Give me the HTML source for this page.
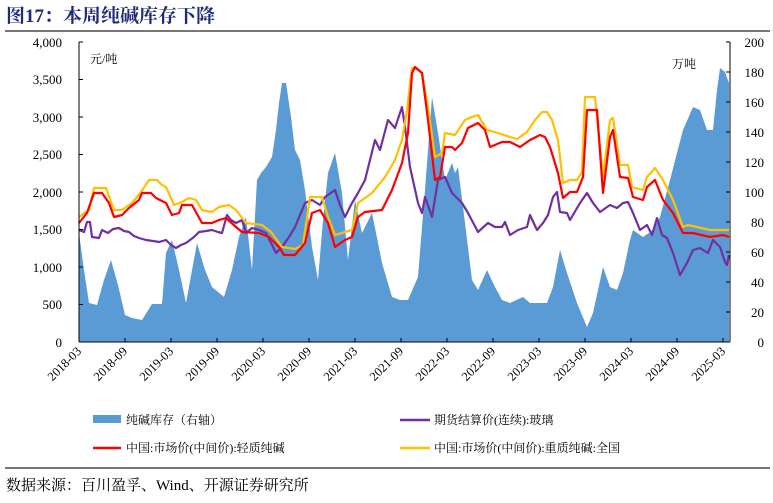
<!DOCTYPE html>
<html><head><meta charset="utf-8"><style>
body{margin:0;background:#fff;width:773px;height:498px;overflow:hidden;font-family:"Liberation Serif","Noto Serif CJK SC",serif}
svg text{font-family:"Liberation Serif","Noto Serif CJK SC",serif}
</style></head><body>
<svg width="773" height="498" xmlns="http://www.w3.org/2000/svg">
<text x="6" y="22" font-size="19" font-weight="bold" fill="#1f2a7a">图17：本周纯碱库存下降</text>
<line x1="5" y1="31" x2="770" y2="31" stroke="#777" stroke-width="2"/>
<polygon fill="#5b9bd5" points="79,342 79,233 84,270 89,303 97,305 104,280 111,260 118,285 125,315 132,318 142,320 152,304 162,304 166,253 172,240 179,270 186,303 197,243 205,270 212,287 224,297 232,270 239,237 246,217 252,270 257,180 261,173 266,167 272,157 276,130 279,103 282,83 286,83 291,117 295,150 300,160 305,190 312,247 318,280 323,220 328,173 335,153 342,193 348,260 355,200 362,233 372,213 382,263 392,297 400,300 408,300 418,277 425,190 432,97 438,133 445,180 452,163 455,173 458,167 465,223 472,280 478,290 487,270 495,287 502,300 510,303 523,297 530,303 547,303 553,287 560,250 567,273 577,303 587,327 593,313 603,267 610,287 617,290 623,273 630,240 633,230 643,237 653,230 660,217 670,180 677,153 683,130 693,107 700,110 707,130 713,130 717,90 720,68 725,72 729,83 729,342"/>
<g fill="none" stroke-width="2.2" stroke-linejoin="round">
<polyline stroke="#7030a0" points="79,230 84,232 87,222 90,222 92,237 99,238 102,230 108,233 113,229 119,228 124,231 129,232 134,236 139,238 146,240 153,241 159,242 166,240 171,245 176,248 181,245 186,243 194,237 199,232 206,231 212,230 218,232 222,233 227,215 231,220 236,223 242,220 246,233 252,228 259,230 266,233 271,243 276,253 282,247 289,237 295,227 300,215 305,203 312,200 320,205 325,197 335,190 340,205 345,217 352,203 358,193 365,180 370,160 375,140 380,150 388,120 395,128 402,107 405,127 410,167 418,203 422,213 425,197 432,217 438,180 445,177 452,193 462,203 468,213 478,232 488,223 495,227 502,227 505,222 510,235 518,230 527,227 530,215 537,230 543,223 548,215 553,197 557,192 560,212 567,213 570,220 580,203 587,193 593,203 600,212 610,205 617,208 623,203 628,202 633,213 640,230 647,225 652,235 657,218 662,235 667,238 673,253 680,275 687,263 693,250 700,248 708,253 713,240 720,247 725,262 727,265 729,255"/>
<polyline stroke="#ffc000" points="79,217 89,210 94,188 106,188 114,210 122,210 132,203 141,192 149,180 157,180 162,185 166,187 174,205 182,202 189,198 196,200 202,210 212,212 219,207 229,205 236,210 246,223 262,225 271,232 282,247 295,249 303,245 310,197 322,197 328,217 335,235 352,230 358,203 372,193 385,177 395,160 402,140 407,110 412,68 417,69 422,73 428,107 435,157 442,153 445,133 455,135 465,120 472,117 478,115 487,130 498,133 510,137 517,139 527,132 535,120 542,112 547,112 552,120 558,140 563,183 570,180 577,180 582,172 585,97 595,97 603,177 610,120 613,118 620,165 628,165 632,187 643,190 647,177 655,168 663,180 673,200 683,227 688,225 710,230 723,230 729,230"/>
<polyline stroke="#ff0000" points="79,223 87,213 94,193 102,193 109,203 114,217 122,215 129,208 139,200 142,193 151,193 156,198 166,203 172,215 179,213 182,205 192,205 202,223 212,223 219,220 226,218 236,227 242,232 259,233 269,237 279,247 284,255 295,255 305,243 312,213 320,210 328,223 335,247 345,240 352,237 358,217 365,212 382,210 392,190 402,163 408,133 412,73 415,67 422,73 428,120 435,180 440,177 445,147 452,147 455,150 462,143 468,128 478,123 485,130 490,147 502,142 510,142 520,147 530,140 540,135 545,137 550,147 558,173 563,198 570,192 577,192 583,177 587,110 597,110 603,193 610,137 613,130 620,177 628,178 633,197 643,200 647,187 655,180 663,200 673,213 683,233 693,233 710,237 723,235 729,237"/>
</g>
<g stroke="#000" stroke-width="1">
<line x1="79" y1="42" x2="79" y2="342"/><line x1="79" y1="342" x2="730" y2="342"/><line x1="730" y1="42" x2="730" y2="342"/>
<line x1="79" y1="42" x2="83" y2="42"/><line x1="79" y1="79.5" x2="83" y2="79.5"/><line x1="79" y1="117" x2="83" y2="117"/><line x1="79" y1="154.5" x2="83" y2="154.5"/><line x1="79" y1="192" x2="83" y2="192"/><line x1="79" y1="229.5" x2="83" y2="229.5"/><line x1="79" y1="267" x2="83" y2="267"/><line x1="79" y1="304.5" x2="83" y2="304.5"/>
<line x1="726" y1="42" x2="730" y2="42"/><line x1="726" y1="72" x2="730" y2="72"/><line x1="726" y1="102" x2="730" y2="102"/><line x1="726" y1="132" x2="730" y2="132"/><line x1="726" y1="162" x2="730" y2="162"/><line x1="726" y1="192" x2="730" y2="192"/><line x1="726" y1="222" x2="730" y2="222"/><line x1="726" y1="252" x2="730" y2="252"/><line x1="726" y1="282" x2="730" y2="282"/><line x1="726" y1="312" x2="730" y2="312"/>
<line x1="125" y1="342" x2="125" y2="338"/><line x1="171" y1="342" x2="171" y2="338"/><line x1="217" y1="342" x2="217" y2="338"/><line x1="263" y1="342" x2="263" y2="338"/><line x1="309" y1="342" x2="309" y2="338"/><line x1="355" y1="342" x2="355" y2="338"/><line x1="401" y1="342" x2="401" y2="338"/><line x1="447" y1="342" x2="447" y2="338"/><line x1="493" y1="342" x2="493" y2="338"/><line x1="539" y1="342" x2="539" y2="338"/><line x1="585" y1="342" x2="585" y2="338"/><line x1="631" y1="342" x2="631" y2="338"/><line x1="677" y1="342" x2="677" y2="338"/><line x1="723" y1="342" x2="723" y2="338"/>
</g>
<g font-size="13" text-anchor="end" fill="#000">
<text x="62" y="47">4,000</text><text x="62" y="84">3,500</text><text x="62" y="122">3,000</text><text x="62" y="159">2,500</text><text x="62" y="197">2,000</text><text x="62" y="234">1,500</text><text x="62" y="272">1,000</text><text x="62" y="309">500</text><text x="62" y="347">0</text>
</g>
<g font-size="13" text-anchor="end" fill="#000">
<text x="764" y="47">200</text><text x="764" y="77">180</text><text x="764" y="107">160</text><text x="764" y="137">140</text><text x="764" y="167">120</text><text x="764" y="197">100</text><text x="764" y="227">80</text><text x="764" y="257">60</text><text x="764" y="287">40</text><text x="764" y="317">20</text><text x="764" y="347">0</text>
</g>
<text x="90" y="63" font-size="12">元/吨</text>
<text x="672" y="68" font-size="12">万吨</text>
<g font-size="12.5" text-anchor="end" fill="#000">
<text transform="translate(82,352) rotate(-45)">2018-03</text>
<text transform="translate(128,352) rotate(-45)">2018-09</text>
<text transform="translate(174,352) rotate(-45)">2019-03</text>
<text transform="translate(220,352) rotate(-45)">2019-09</text>
<text transform="translate(266,352) rotate(-45)">2020-03</text>
<text transform="translate(312,352) rotate(-45)">2020-09</text>
<text transform="translate(358,352) rotate(-45)">2021-03</text>
<text transform="translate(404,352) rotate(-45)">2021-09</text>
<text transform="translate(450,352) rotate(-45)">2022-03</text>
<text transform="translate(496,352) rotate(-45)">2022-09</text>
<text transform="translate(542,352) rotate(-45)">2023-03</text>
<text transform="translate(588,352) rotate(-45)">2023-09</text>
<text transform="translate(634,352) rotate(-45)">2024-03</text>
<text transform="translate(680,352) rotate(-45)">2024-09</text>
<text transform="translate(726,352) rotate(-45)">2025-03</text>
</g>
<rect x="93" y="415" width="28" height="8" fill="#5b9bd5"/>
<text x="126" y="424" font-size="12">纯碱库存（右轴）</text>
<line x1="93" y1="448" x2="121" y2="448" stroke="#ff0000" stroke-width="2.5"/>
<text x="126" y="452" font-size="12">中国:市场价(中间价):轻质纯碱</text>
<line x1="400" y1="420" x2="430" y2="420" stroke="#7030a0" stroke-width="2.5"/>
<text x="434" y="424" font-size="12">期货结算价(连续):玻璃</text>
<line x1="400" y1="448" x2="430" y2="448" stroke="#ffc000" stroke-width="2.5"/>
<text x="434" y="452" font-size="12">中国:市场价(中间价):重质纯碱:全国</text>
<line x1="5" y1="468" x2="770" y2="468" stroke="#777" stroke-width="2"/>
<text x="6" y="490" font-size="15">数据来源：百川盈孚、Wind、开源证券研究所</text>
</svg>
</body></html>
